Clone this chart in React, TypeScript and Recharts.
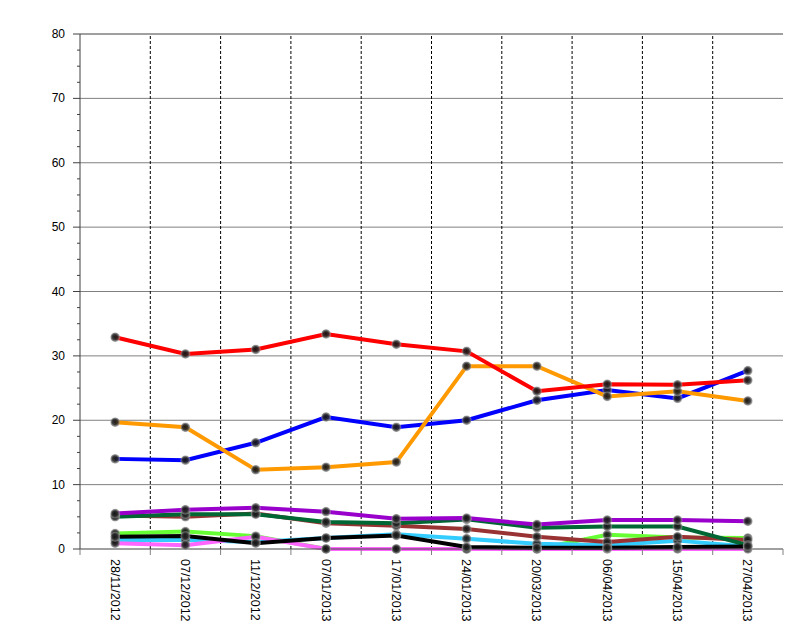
import React from 'react';
import { LineChart, Line, XAxis, YAxis, ReferenceLine } from 'recharts';

const categories = ['28/11/2012', '07/12/2012', '11/12/2012', '07/01/2013', '17/01/2013', '24/01/2013', '20/03/2013', '06/04/2013', '15/04/2013', '27/04/2013'];

const red = [32.9, 30.3, 31.0, 33.4, 31.8, 30.7, 24.5, 25.6, 25.5, 26.2];
const blue = [14.0, 13.8, 16.5, 20.5, 18.9, 20.0, 23.1, 24.7, 23.4, 27.7];
const orange = [19.7, 18.9, 12.3, 12.7, 13.5, 28.4, 28.4, 23.7, 24.5, 23.0];
const purple = [5.5, 6.1, 6.4, 5.8, 4.7, 4.8, 3.8, 4.5, 4.5, 4.3];
const darkGreen = [5.0, 5.4, 5.4, 4.2, 4.0, 4.6, 3.3, 3.5, 3.5, 0.6];
const brown = [5.2, 5.0, 5.5, 4.0, 3.6, 3.1, 1.9, 1.1, 1.9, 1.4];
const lightGreen = [2.4, 2.7, 2.0, 0, 0, 0, 0, 2.2, 1.8, 1.7];
const cyan = [1.4, 1.4, 1.1, 1.7, 2.3, 1.6, 0.8, 0.6, 1.3, 0.4];
const pink = [0.9, 0.6, 1.9, 0, 0, 0, 0, 0, 0, 0];
const black = [1.9, 2.0, 0.9, 1.7, 2.1, 0.3, 0.2, 0.2, 0.3, 0.4];

const yTicks = [0, 2.5, 5, 7.5, 10, 12.5, 15, 17.5, 20, 22.5, 25, 27.5, 30, 32.5, 35, 37.5, 40, 42.5, 45, 47.5, 50, 52.5, 55, 57.5, 60, 62.5, 65, 67.5, 70, 72.5, 75, 77.5, 80];
const hGrid = [10, 20, 30, 40, 50, 60, 70];

const seriesDefs = [
  { key: 'lightGreen', values: lightGreen, color: '#66FF33' },
  { key: 'cyan', values: cyan, color: '#33CCFF' },
  { key: 'pink', values: pink, color: '#FF66FF' },
  { key: 'brown', values: brown, color: '#993333' },
  { key: 'darkGreen', values: darkGreen, color: '#006633' },
  { key: 'purple', values: purple, color: '#9900CC' },
  { key: 'black', values: black, color: '#000000' },
  { key: 'blue', values: blue, color: '#0000FF' },
  { key: 'orange', values: orange, color: '#FF9900' },
  { key: 'red', values: red, color: '#FF0000' },
];

const data = categories.map((c, i) => {
  const row: any = { date: c };
  seriesDefs.forEach((s) => {
    row[s.key] = s.values[i];
  });
  return row;
});

const FONT = '"Liberation Sans", Arial, sans-serif';

const YTick = (props: any) => {
  const { x, y, payload } = props;
  const v = payload.value;
  const major = v % 10 === 0;
  return (
    <g>
      <line x1={major ? x - 7 : x - 3} x2={x} y1={y} y2={y} stroke="#404040" strokeWidth={1} />
      {major && (
        <text x={x - 15} y={y} dy={4} textAnchor="end" fontSize={12} fontFamily={FONT} fill="#000">
          {v}
        </text>
      )}
    </g>
  );
};

const XTick = (props: any) => {
  const { x, y, payload, index } = props;
  const off = payload && payload.offset != null ? payload.offset : 35;
  const isLast = index === categories.length - 1;
  return (
    <g>
      <line x1={x - off} x2={x - off} y1={y} y2={y + 6} stroke="#808080" strokeWidth={1} />
      {isLast && <line x1={x + off} x2={x + off} y1={y} y2={y + 6} stroke="#808080" strokeWidth={1} />}
      <text
        x={x}
        y={y + 10}
        dy={4.5}
        transform={`rotate(90, ${x}, ${y + 10})`}
        textAnchor="start"
        fontSize={12.5}
        fontFamily={FONT}
        fill="#000"
      >
        {payload.value}
      </text>
    </g>
  );
};

const Ball = (props: any) => {
  const { cx, cy } = props;
  if (cx == null || cy == null) return null;
  return <circle cx={cx} cy={cy} r={5} fill="url(#ballGrad)" />;
};

export default function App() {
  return (
    <div style={{ position: 'absolute', left: 0, top: 0, background: '#fff' }}>
      <LineChart width={795} height={641} data={data} margin={{ top: 34, right: 12, bottom: 0, left: 0 }}>
        <defs>
          <radialGradient id="ballGrad" cx="50%" cy="50%" r="50%" fx="45%" fy="45%">
            <stop offset="0%" stopColor="#111" stopOpacity={0.95} />
            <stop offset="55%" stopColor="#2a2a2a" stopOpacity={0.9} />
            <stop offset="85%" stopColor="#777" stopOpacity={0.75} />
            <stop offset="100%" stopColor="#bbb" stopOpacity={0.4} />
          </radialGradient>
        </defs>
        <XAxis
          dataKey="date"
          scale="band"
          height={92}
          interval={0}
          tickLine={false}
          tickSize={0}
          tickMargin={0}
          axisLine={{ stroke: '#404040', strokeWidth: 1 }}
          tick={<XTick />}
        />
        <YAxis
          domain={[0, 80]}
          ticks={yTicks}
          interval={0}
          width={80}
          tickLine={false}
          tickSize={0}
          tickMargin={0}
          axisLine={{ stroke: '#404040', strokeWidth: 1 }}
          tick={<YTick />}
        />
        <YAxis
          yAxisId="right"
          orientation="right"
          domain={[0, 80]}
          width={0}
          tick={false}
          tickLine={false}
          axisLine={{ stroke: '#808080', strokeWidth: 1 }}
        />
        {hGrid.map((v) => (
          <ReferenceLine key={`h${v}`} y={v} stroke="#808080" strokeWidth={1} />
        ))}
        <ReferenceLine y={80} stroke="#404040" strokeWidth={1} />
        {categories.slice(1).map((c) => (
          <ReferenceLine key={`v${c}`} x={c} position="start" stroke="#000" strokeWidth={1} strokeDasharray="3 2" />
        ))}
        {seriesDefs.map((s) => (
          <Line
            key={s.key}
            dataKey={s.key}
            type="linear"
            stroke={s.color}
            strokeWidth={4}
            dot={<Ball />}
            activeDot={false}
            isAnimationActive={false}
          />
        ))}
      </LineChart>
    </div>
  );
}
